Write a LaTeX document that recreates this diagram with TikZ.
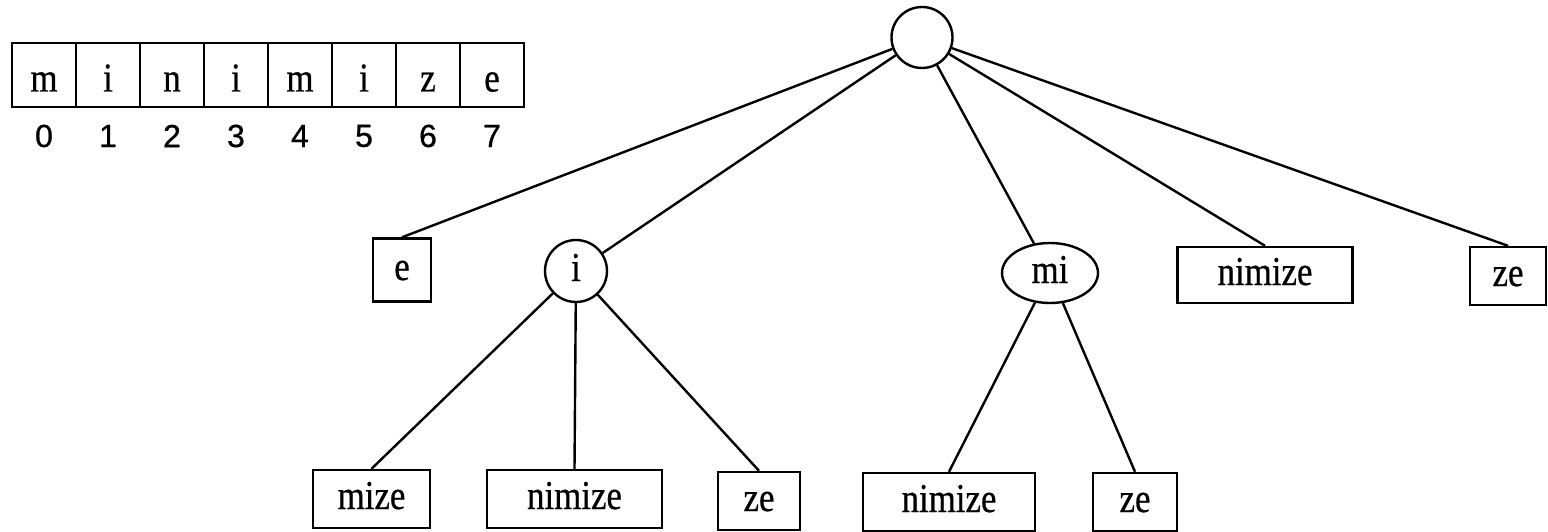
\documentclass[tikz,border=0pt]{standalone}
\usepackage{fontspec}
\setmainfont{Liberation Serif}
\newfontfamily\lblfont[FakeStretch=0.85,FakeBold=0.6]{Liberation Serif}
\newfontfamily\digfont[FakeBold=0.8]{Liberation Sans}
\usetikzlibrary{shapes.geometric}
\tikzset{
  lbl/.style={font=\lblfont\fontsize{41}{44}\selectfont, inner sep=0pt, text height=20pt, text depth=0pt},
  leaf/.style={lbl, draw, rectangle, minimum height=58pt},
  inode/.style={lbl, draw, circle},
  cell/.style={lbl, draw, rectangle, minimum width=64pt, minimum height=64pt, text height=33pt},
  idx/.style={font=\digfont\fontsize{32}{36}\selectfont, inner sep=0pt},
  edge/.style={line width=2.4pt}
}
\begin{document}
\begin{tikzpicture}[x=1pt, y=-1pt, line width=2.4pt]
\useasboundingbox (0,0) rectangle (1548,532);
% array
\foreach \ch [count=\k from 0] in {m,i,n,i,m,i,z,e} {
  \node[cell] (c\k) at ({44+64*\k},75) {\ch};
  \node[idx] (d\k) at ({44+64*\k},136) {\k};
}
% tree nodes
\node[inode, minimum size=61pt] (root) at (922,37.5) {};
\node[leaf, minimum width=58pt, minimum height=63pt] (e) at (402,270) {e};
\node[inode, minimum size=62pt] (i) at (576,271) {i};
\node[lbl, draw, ellipse, minimum width=96pt, minimum height=60pt] (mi) at (1050,273) {mi};
\node[leaf, minimum width=175pt, minimum height=56pt] (nimA) at (1265,275) {nimize};
\node[leaf, minimum width=76pt] (zeA) at (1508,276) {ze};
\node[leaf, minimum width=117pt] (mize) at (371.5,499) {mize};
\node[leaf, minimum width=175pt] (nimB) at (574.5,499) {nimize};
\node[leaf, minimum width=82pt] (zeB) at (759,501) {ze};
\node[leaf, minimum width=172pt] (nimC) at (949,502) {nimize};
\node[leaf, minimum width=84pt] (zeC) at (1135,502) {ze};
% edges
\draw[edge] (root) -- (e.north);
\draw[edge] (root) -- (i);
\draw[edge] (root) -- (mi);
\draw[edge] (root) -- (nimA.north);
\draw[edge] (root) -- (zeA.north);
\draw[edge] (i) -- (mize.north);
\draw[edge] (i) -- (nimB.north);
\draw[edge] (i) -- (zeB.north);
\draw[edge] (mi) -- (nimC.north);
\draw[edge] (mi) -- (zeC.north);
\end{tikzpicture}
\end{document}
